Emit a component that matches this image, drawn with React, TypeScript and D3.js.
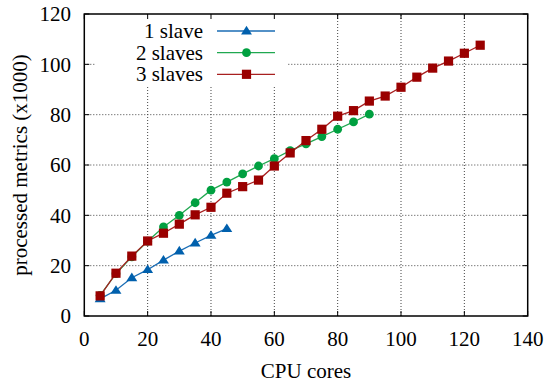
import React from "react";
import * as d3 from "d3";

const xs1 = [5, 10, 15, 20, 25, 30, 35, 40, 45];
const slave1 = [6.8, 10.2, 15.2, 18.4, 22.2, 25.8, 29, 32, 34.7];
const xs2 = [5, 10, 15, 20, 25, 30, 35, 40, 45, 50, 55, 60, 65, 70, 75, 80, 85, 90];
const slave2 = [8.2, 16.8, 23.5, 29.7, 35.4, 40, 45, 50, 53.2, 56.5, 59.6, 62.5, 65.7, 68.4, 71.3, 74.2, 77.1, 80.2];
const xs3 = [5, 10, 15, 20, 25, 30, 35, 40, 45, 50, 55, 60, 65, 70, 75, 80, 85, 90, 95, 100, 105, 110, 115, 120, 125];
const slave3 = [8, 17, 23.8, 29.8, 32.9, 36.5, 40.2, 43.2, 48.8, 51.4, 54, 59.6, 64.8, 69.7, 74.2, 79.4, 81.6, 85.4, 87.4, 90.9, 94.9, 98.5, 101.3, 104.4, 107.6];
const xTicks = [0, 20, 40, 60, 80, 100, 120, 140];
const yTicks = [0, 20, 40, 60, 80, 100, 120];
const seriesNames = ["1 slave", "2 slaves", "3 slaves"];
const colors = ["#0060ad", "#00a040", "#9a0000"];
const lineColors = ["#1a6db5", "#20a850", "#a82020"];

const W = 559, H = 383;
const FONT = "Liberation Serif, Times New Roman, DejaVu Serif, serif";

export default function App() {
  const x = d3.scaleLinear().domain([0, 140]).range([84.3, 527.7]);
  const y = d3.scaleLinear().domain([0, 120]).range([316, 14]);
  const line = d3.line<[number, number]>().x(d => x(d[0])).y(d => y(d[1]));
  const series = [
    { xs: xs1, ys: slave1 },
    { xs: xs2, ys: slave2 },
    { xs: xs3, ys: slave3 },
  ];

  const marker = (i: number, cx: number, cy: number, key: string) => {
    const c = colors[i];
    if (i === 0) {
      const s = 5.2;
      const path = `M${cx},${cy - s}L${cx + s * 1.05},${cy + s * 0.65}L${cx - s * 1.05},${cy + s * 0.65}Z`;
      return <path key={key} d={path} fill={c} />;
    }
    if (i === 1) return <circle key={key} cx={cx} cy={cy} r={4.4} fill={c} />;
    return <rect key={key} x={cx - 4.6} y={cy - 4.6} width={9.2} height={9.2} fill={c} />;
  };

  const x0 = x(0), x1 = x(140), y0 = y(0), y1 = y(120);
  const legendRows = [31, 52.7, 74.3];
  const ts = { fontFamily: FONT, fontSize: "21px" };

  return (
    <svg width={W} height={H} style={{ position: "absolute", left: 0, top: 0, background: "#fff", fontFamily: FONT }}>
      <rect x={0} y={0} width={W} height={H} fill="#fff" />
      {xTicks.slice(1, -1).map(t => (
        <line key={"gx" + t} x1={x(t)} x2={x(t)} y1={y0} y2={y1} stroke="#444" strokeWidth={1} strokeDasharray="1,2" />
      ))}
      {yTicks.slice(1, -1).map(t => (
        <line key={"gy" + t} x1={x0} x2={x1} y1={y(t)} y2={y(t)} stroke="#444" strokeWidth={1} strokeDasharray="1,2" />
      ))}
      <rect x={96} y={y1 + 1} width={192} height={72} fill="#fff" />
      {xTicks.map(t => (
        <g key={"tx" + t}>
          <line x1={x(t)} x2={x(t)} y1={y0} y2={y0 - 5} stroke="#000" strokeWidth={1} />
          <line x1={x(t)} x2={x(t)} y1={y1} y2={y1 + 5} stroke="#000" strokeWidth={1} />
          <text x={x(t)} y={346} style={ts} textAnchor="middle" fill="#000">{t}</text>
        </g>
      ))}
      {yTicks.map(t => (
        <g key={"ty" + t}>
          <line x1={x0} x2={x0 + 5} y1={y(t)} y2={y(t)} stroke="#000" strokeWidth={1} />
          <line x1={x1} x2={x1 - 5} y1={y(t)} y2={y(t)} stroke="#000" strokeWidth={1} />
          <text x={71} y={y(t) + 7.3} style={ts} textAnchor="end" fill="#000">{t}</text>
        </g>
      ))}
      {series.map((s, i) => (
        <g key={"s" + i}>
          <path d={line(s.xs.map((v, j) => [v, s.ys[j]] as [number, number])) || ""} fill="none" stroke={lineColors[i]} strokeWidth={1.3} />
          {s.xs.map((v, j) => marker(i, x(v), y(s.ys[j]), `m${i}-${j}`))}
        </g>
      ))}
      {seriesNames.map((n, i) => (
        <g key={"l" + i}>
          <text x={203} y={legendRows[i] + 7} style={ts} textAnchor="end" fill="#000">{n}</text>
          <line x1={217} x2={275} y1={legendRows[i]} y2={legendRows[i]} stroke={lineColors[i]} strokeWidth={1.3} />
          {marker(i, 246.5, legendRows[i], "lm" + i)}
        </g>
      ))}
      <rect x={x0} y={y1} width={x1 - x0} height={y0 - y1} fill="none" stroke="#000" strokeWidth={1.5} />
      <text x={(x0 + x1) / 2} y={378} style={ts} textAnchor="middle" fill="#000">CPU cores</text>
      <text transform={`translate(27,${(y0 + y1) / 2}) rotate(-90)`} style={ts} textAnchor="middle" fill="#000">processed metrics (x1000)</text>
    </svg>
  );
}
